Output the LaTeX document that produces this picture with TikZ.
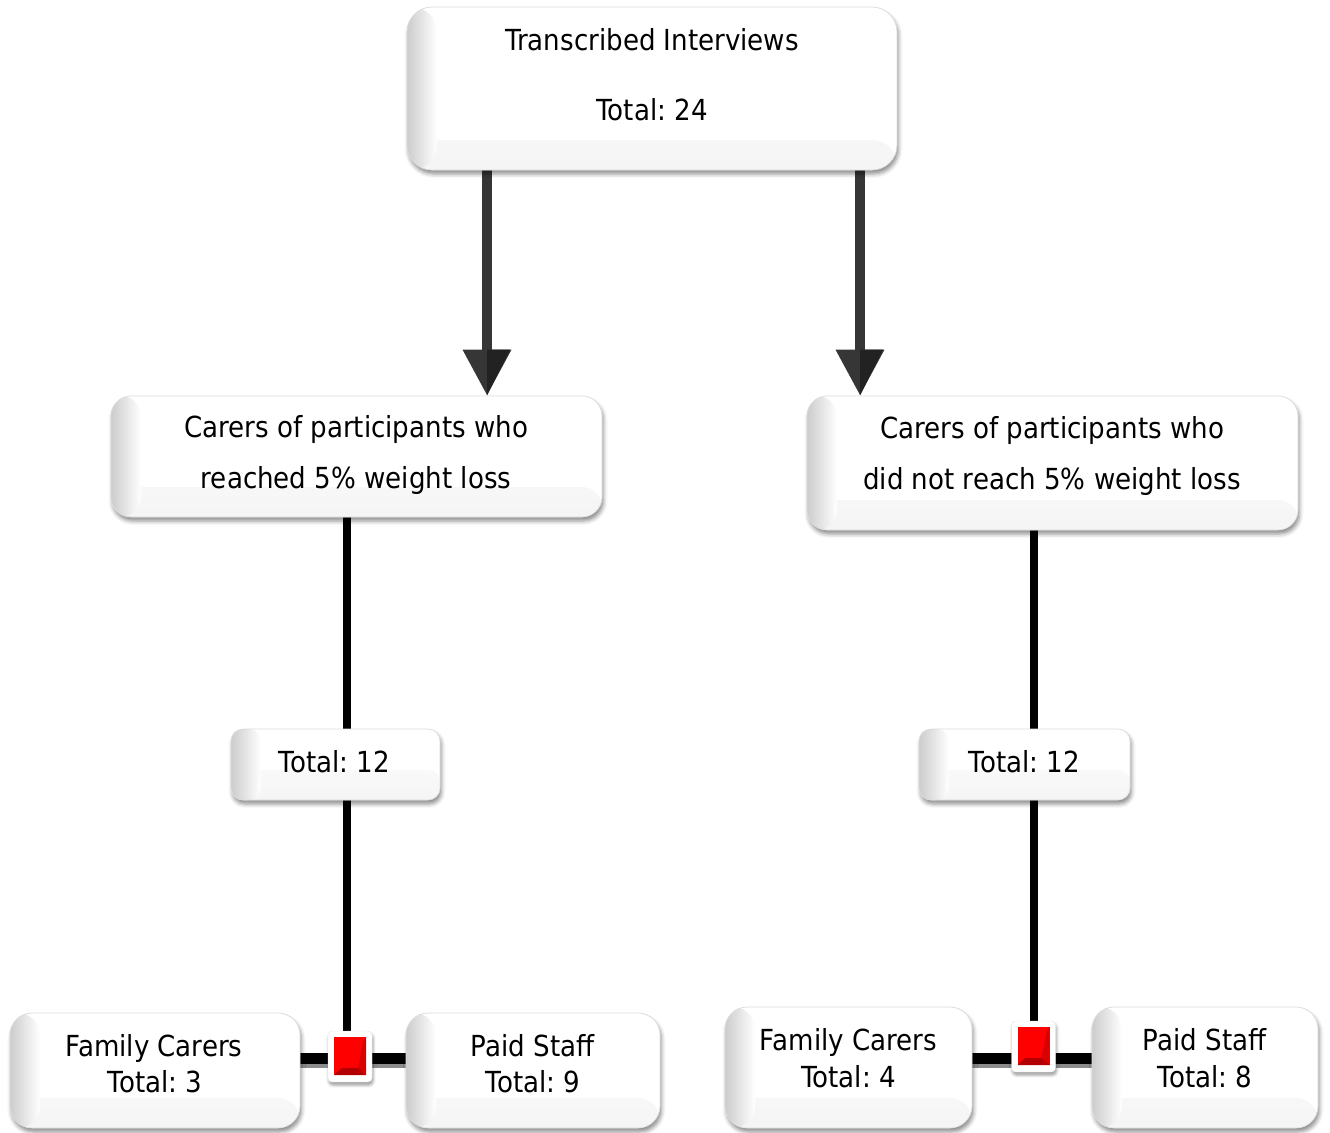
\documentclass[tikz,border=0pt]{standalone}
\usepackage{fontspec}
\setmainfont{DejaVu Sans}[FakeStretch=0.9]
\frenchspacing
\usetikzlibrary{arrows.meta,shadows.blur,backgrounds}
\definecolor{shaftgray}{HTML}{363636}
\definecolor{headdark}{HTML}{222222}

\begin{document}
\begin{tikzpicture}[x=1pt,y=-1pt,
  card/.style={draw=black!14, line width=0.7pt, fill=white, rounded corners=#1, inner sep=0pt,
    blur shadow={shadow xshift=1.5pt, shadow yshift=-4pt, shadow blur radius=4pt, shadow opacity=45},
    path picture={
      \shade[top color=white, bottom color=black!4]
        ([yshift=30pt]path picture bounding box.south west) rectangle (path picture bounding box.south east);
      \shade[left color=black!20, right color=white]
        (path picture bounding box.south west) rectangle ([xshift=30pt]path picture bounding box.north west);
    }},
  card/.default=20pt,
  txt/.style={inner sep=0pt, text height=21pt, text depth=0pt, anchor=center,
    font=\fontsize{29pt}{34pt}\selectfont},
  bigarrow/.style={draw=shaftgray, line width=10pt, -{Triangle[width=46pt,length=46pt]}},
  stem/.style={draw=black, line width=8pt},
  bar/.style={draw=black, line width=11pt,
    preaction={draw=black!45, line width=6pt, transform canvas={yshift=-7pt}}},
  sqframe/.style={fill=white, draw=black!10, rounded corners=4pt, minimum width=44pt,
    minimum height=51pt, inner sep=0pt,
    blur shadow={shadow xshift=1pt, shadow yshift=-3pt, shadow blur radius=3pt, shadow opacity=40}},
  redcore/.style={fill=red, minimum width=32pt, minimum height=38pt, inner sep=0pt,
    path picture={
      \fill[red!70!black] (path picture bounding box.south west)
        -- ([xshift=8pt,yshift=7pt]path picture bounding box.south west)
        -- ([xshift=-8pt,yshift=7pt]path picture bounding box.south east)
        -- (path picture bounding box.south east) -- cycle;
      \fill[red!85!black] (path picture bounding box.south east)
        -- ([xshift=-8pt,yshift=7pt]path picture bounding box.south east)
        -- ([xshift=-3pt,yshift=-5pt]path picture bounding box.north east)
        -- (path picture bounding box.north east) -- cycle;
    }}
]
\useasboundingbox (0,0) rectangle (1330,1132);
\clip (0,0) rectangle (1330,1132);

% column guides for the connectors
\coordinate (axl) at (487,0);
\coordinate (axr) at (860,0);
\coordinate (vl) at (347,0);
\coordinate (vr) at (1034,0);
\coordinate (barl) at (0,1058);
\coordinate (barr) at (0,1058);

% boxes
\node[card=25pt, minimum width=490pt, minimum height=163pt] (top) at (652,88.5) {};
\node[card, minimum width=491pt, minimum height=121pt] (ml) at (356.5,456.5) {};
\node[card, minimum width=491pt, minimum height=134pt] (mr) at (1052.5,463) {};
\node[card=12pt, minimum width=209pt, minimum height=71pt] (tl) at (335.5,764.5) {};
\node[card=12pt, minimum width=211pt, minimum height=71pt] (tr) at (1024.5,764.5) {};
\node[card=22pt, minimum width=290pt, minimum height=115pt] (fcl) at (155,1070.5) {};
\node[card=22pt, minimum width=254pt, minimum height=115pt] (psl) at (533,1070.5) {};
\node[card=22pt, minimum width=247pt, minimum height=121pt] (fcr) at (848.5,1067.5) {};
\node[card=22pt, minimum width=226pt, minimum height=121pt] (psr) at (1205,1067.5) {};

% labels
\node[txt] (top-a) at (652,40) {Transcribed Interviews};
\node[txt] (top-b) at (652,110) {Total: 24};
\node[txt] (ml-a) at (356,427) {Carers of participants who};
\node[txt] (ml-b) at (356,478) {reached 5\% weight loss};
\node[txt] (mr-a) at (1052,428) {Carers of participants who};
\node[txt] (mr-b) at (1052,479) {did not reach 5\% weight loss};
\node[txt] (tl-a) at (334.5,762) {Total: 12};
\node[txt] (tr-a) at (1024.5,762) {Total: 12};
\node[txt] (fcl-a) at (154,1046) {Family Carers};
\node[txt] (fcl-b) at (155,1082) {Total: 3};
\node[txt] (psl-a) at (532.5,1046) {Paid Staff};
\node[txt] (psl-b) at (533,1082) {Total: 9};
\node[txt] (fcr-a) at (848.5,1040) {Family Carers};
\node[txt] (fcr-b) at (848.5,1077) {Total: 4};
\node[txt] (psr-a) at (1204.5,1040) {Paid Staff};
\node[txt] (psr-b) at (1205,1077) {Total: 8};

% junction markers
\node[sqframe] (sql) at (350,1056.5) {};
\node[redcore] (sqlc) at (350,1056) {};
\node[sqframe] (sqr) at (1033.5,1046.5) {};
\node[redcore] (sqrc) at (1033.5,1046) {};

\begin{scope}[on background layer]
  % split arrows
  \draw[bigarrow] (top.south -| axl) -- (ml.north -| axl);
  \draw[bigarrow] (top.south -| axr) -- (mr.north -| axr);
  \fill[headdark] (ml.north -| axl) -- ++(0,-46) -- ++(23,0) -- cycle;
  \fill[headdark] (mr.north -| axr) -- ++(0,-46) -- ++(23,0) -- cycle;
  % vertical stems
  \draw[stem] (ml.south -| vl) -- (tl.north -| vl);
  \draw[stem] (tl.south -| vl) -- (vl |- sql.center);
  \draw[stem] (mr.south -| vr) -- (tr.north -| vr);
  \draw[stem] (tr.south -| vr) -- (vr |- sqr.center);
  % horizontal bars
  \draw[bar] (fcl.east |- barl) -- (psl.west |- barl);
  \draw[bar] (fcr.east |- barr) -- (psr.west |- barr);
\end{scope}
\end{tikzpicture}
\end{document}
